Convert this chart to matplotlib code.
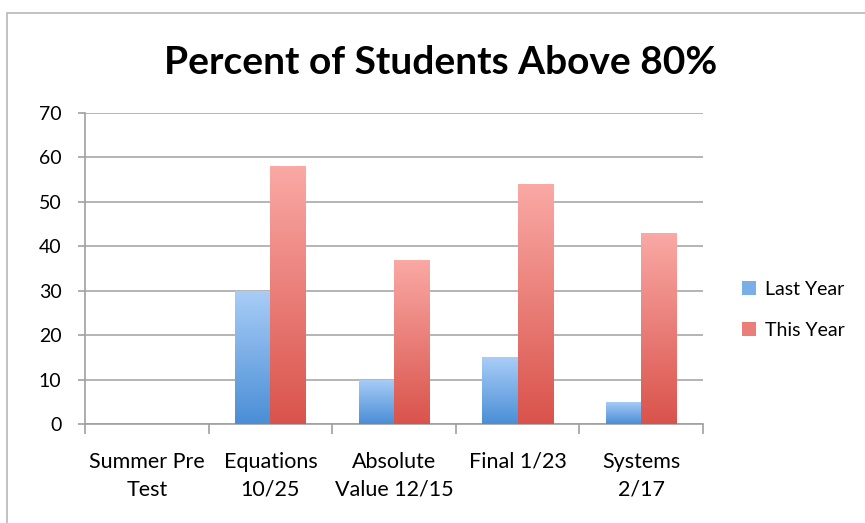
import numpy as np
import matplotlib.pyplot as plt
from matplotlib.colors import LinearSegmentedColormap
from matplotlib.patches import Rectangle

categories = ["Summer Pre\nTest", "Equations\n10/25", "Absolute\nValue 12/15", "Final 1/23", "Systems\n2/17"]
last_year = [0, 30, 10, 15, 5]
this_year = [0, 58, 37, 54, 43]
series_names = ["Last Year", "This Year"]

plt.rcParams["font.family"] = ["Lato", "DejaVu Sans"]

fig = plt.figure(figsize=(8.65, 5.23), dpi=100)
ax = fig.add_axes([85 / 865, 1 - 424 / 523, (703 - 85) / 865, (424 - 113) / 523])

# outer chart frame
fig.patches.append(Rectangle((7 / 865, -0.1), 1.2, 1 - 13 / 523 + 0.1, transform=fig.transFigure,
                             fill=False, edgecolor="#b8b8b8", linewidth=1.2))

blue_cmap = LinearSegmentedColormap.from_list("blue", ["#4a8ed6", "#a9cdf7"])
red_cmap = LinearSegmentedColormap.from_list("red", ["#d9534b", "#faa9a5"])

x = np.arange(len(categories))
w = 0.285
grad = np.linspace(0, 1, 256).reshape(-1, 1)


def gradient_bars(xs, vals, cmap, label):
    bars = ax.bar(xs, vals, w, color=cmap(0.5), label=label, zorder=3, linewidth=0)
    for b in bars:
        if b.get_height() <= 0:
            continue
        x0, y0 = b.get_x(), b.get_y()
        im = ax.imshow(grad, cmap=cmap, origin="lower", aspect="auto", zorder=3.5,
                       extent=(x0, x0 + b.get_width(), y0, y0 + b.get_height()))
        im.set_clip_path(b)
    return bars


gradient_bars(x - w / 2, last_year, blue_cmap, series_names[0])
gradient_bars(x + w / 2, this_year, red_cmap, series_names[1])

ax.set_xlim(-0.5, len(categories) - 0.5)
ax.set_ylim(0, 70)
ax.set_yticks(range(0, 71, 10))
ax.set_xticks(x)
ax.set_xticklabels(categories, fontsize=15.5, linespacing=1.5, va="top")
ax.tick_params(axis="x", length=0, pad=20)
ax.set_xticks(np.arange(-0.5, len(categories)), minor=True)
ax.tick_params(axis="x", which="minor", length=7, color="#a0a0a0", width=1.2)
ax.tick_params(axis="y", labelsize=14, length=5, color="#a0a0a0", width=1.2, pad=12)
ax.grid(axis="y", color="#a8a8a8", linewidth=1.2, zorder=0)
for s in ["top", "right"]:
    ax.spines[s].set_visible(False)
for s in ["left", "bottom"]:
    ax.spines[s].set_color("#a0a0a0")
    ax.spines[s].set_linewidth(1.2)

fig.text(441 / 865, 1 - 63 / 523, "Percent of Students Above 80%", ha="center", va="center",
         fontsize=28, fontweight="bold")

ax.legend(loc="center left", bbox_to_anchor=(1.035, 0.367), frameon=False, fontsize=14,
          handlelength=0.7, handleheight=0.7, handletextpad=0.5, labelspacing=1.25)

fig.savefig("out.png", dpi=100)
